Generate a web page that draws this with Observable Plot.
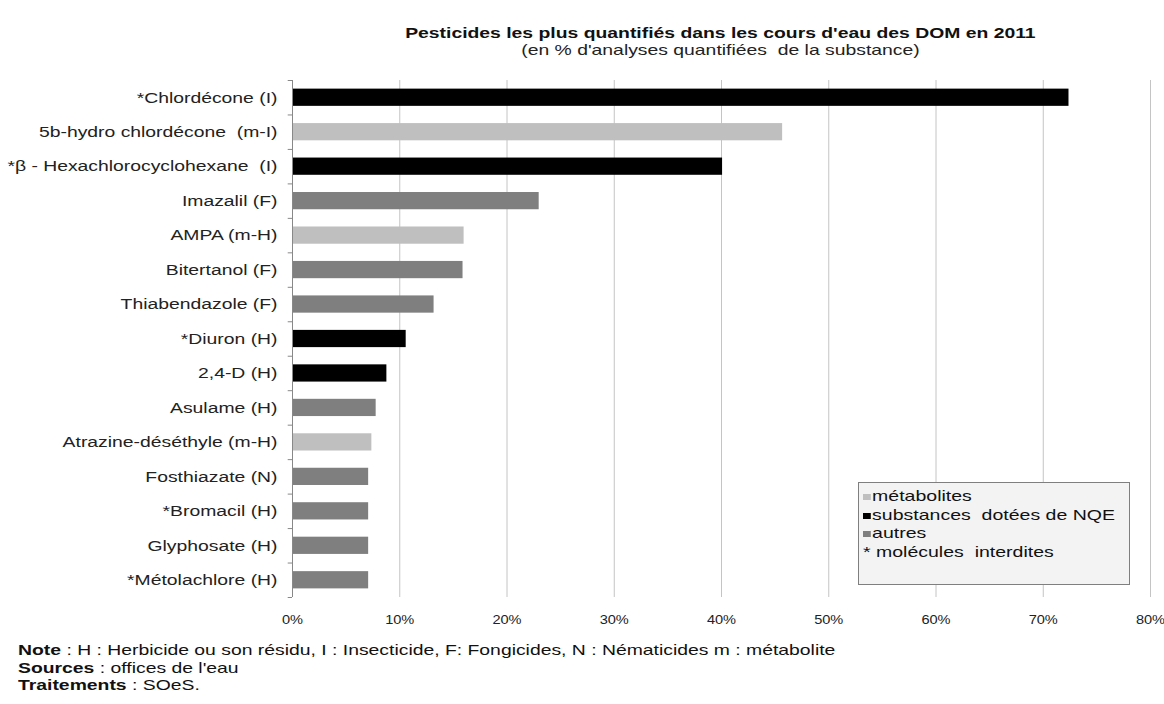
<!DOCTYPE html>
<html>
<head>
<meta charset="utf-8">
<script src="https://cdn.jsdelivr.net/npm/d3@7"></script>
<script src="https://cdn.jsdelivr.net/npm/@observablehq/plot@0.6"></script>
<style>
  body { margin: 0; background: #fff; font-family: "Liberation Sans", Arial, sans-serif; }
  #wrap { position: relative; width: 1164px; height: 704px; overflow: hidden; }
  .sx { display: inline-block; white-space: pre; }
  #title { position: absolute; left: 0; top: 24px; width: 1440px; text-align: center; font-size: 15px; font-weight: bold; color: #111; }
  #title .sx, #subtitle .sx { transform: scaleX(1.29); transform-origin: center; }
  #subtitle { position: absolute; left: 0; top: 41px; width: 1440px; text-align: center; font-size: 15px; color: #222; }
  #chart { position: absolute; left: 0; top: 0; }
  #legend { position: absolute; left: 858px; top: 482px; width: 272px; height: 103px; border: 1px solid #7f7f7f; background: #f3f3f3; box-sizing: border-box; padding: 4px 0 0 4px; font-size: 15px; color: #111; line-height: 18.5px; }
  #legend .sx { transform: scaleX(1.3); transform-origin: left center; }
  #legend .sw { display: inline-block; width: 6px; height: 6px; margin-right: 1px; vertical-align: 1px; }
  #notes { position: absolute; left: 18px; top: 641px; font-size: 15px; color: #111; line-height: 17.5px; }
  #notes .sx { transform: scaleX(1.29); transform-origin: left center; }
</style>
</head>
<body>
<div id="wrap">
  <div id="title"><span class="sx">Pesticides les plus quantifiés dans les cours d'eau des DOM en 2011</span></div>
  <div id="subtitle"><span class="sx">(en % d'analyses quantifiées  de la substance)</span></div>
  <div id="chart"></div>
  <div id="legend"></div>
  <div id="notes">
    <div><span class="sx"><b>Note</b> : H : Herbicide ou son résidu, I : Insecticide, F: Fongicides, N : Nématicides m : métabolite</span></div>
    <div><span class="sx"><b>Sources</b> : offices de l'eau</span></div>
    <div><span class="sx"><b>Traitements</b> : SOeS.</span></div>
  </div>
</div>
<script>
const names = [
  "*Chlordécone (I)",
  "5b-hydro chlordécone  (m-I)",
  "*β - Hexachlorocyclohexane  (I)",
  "Imazalil (F)",
  "AMPA (m-H)",
  "Bitertanol (F)",
  "Thiabendazole (F)",
  "*Diuron (H)",
  "2,4-D (H)",
  "Asulame (H)",
  "Atrazine-déséthyle (m-H)",
  "Fosthiazate (N)",
  "*Bromacil (H)",
  "Glyphosate (H)",
  "*Métolachlore (H)"
];
const values = [72.4, 45.7, 40.1, 23.0, 16.0, 15.9, 13.2, 10.6, 8.8, 7.8, 7.4, 7.1, 7.1, 7.1, 7.1];
const types = ["nqe", "meta", "nqe", "autre", "meta", "autre", "autre", "nqe", "nqe", "autre", "meta", "autre", "autre", "autre", "autre"];
const typeKeys = ["meta", "nqe", "autre"];
const typeLabels = ["métabolites", "substances  dotées de NQE", "autres"];
const typeColors = ["#bfbfbf", "#000000", "#7f7f7f"];
const xTicks = [0, 10, 20, 30, 40, 50, 60, 70, 80];

const data = names.map((n, i) => ({name: n, value: values[i], type: types[i]}));

const bandStep = (597 - 80) / names.length;

const plot = Plot.plot({
  width: 1164,
  height: 640,
  marginTop: 80,
  marginBottom: 43,
  marginLeft: 292,
  marginRight: 14,
  style: {fontFamily: "Liberation Sans, Arial, sans-serif", fontSize: "15px", color: "#222"},
  x: {domain: [0, 80], ticks: xTicks, tickFormat: d => d + "%", label: null},
  y: {domain: names, paddingInner: 0.5, paddingOuter: 0.25, round: false, label: null},
  color: {domain: typeKeys, range: typeColors},
  marks: [
    Plot.gridX(xTicks.filter(d => d > 0), {stroke: "#c4c4c4", strokeOpacity: 1}),
    Plot.axisX({ticks: xTicks, tickFormat: d => d + "%", tickSize: 0, tickPadding: 17, label: null, fontSize: 13.5}),
    Plot.axisY({tickSize: 0, tickPadding: 15, label: null, fontSize: 15}),
    Plot.barX(data, {x: "value", y: "name", fill: "type"}),
    Plot.ruleX([0], {stroke: "#888"}),
    Plot.ruleY(names, {y: d => d, x1: -0.4, x2: 0, dy: -bandStep / 2, stroke: "#888"}),
    Plot.ruleY([names[names.length - 1]], {y: d => d, x1: -0.4, x2: 0, dy: bandStep / 2, stroke: "#888"})
  ]
});
document.getElementById("chart").appendChild(plot);

// widen the y-axis labels horizontally, as in the reference picture
d3.select(plot).selectAll("g[aria-label='y-axis tick label'] text").each(function() {
  const t = this.getAttribute("transform") || "";
  this.setAttribute("transform", t + " scale(1.29,1)");
});
// widen the x-axis labels slightly, keeping the last one inside the window
d3.select(plot).selectAll("g[aria-label='x-axis tick label'] text").each(function() {
  const t = this.getAttribute("transform") || "";
  this.setAttribute("transform", t + " scale(1.08,1)");
});

const legend = document.getElementById("legend");
typeKeys.forEach((k, i) => {
  const row = document.createElement("div");
  const span = document.createElement("span");
  span.className = "sx";
  const sw = document.createElement("span");
  sw.className = "sw";
  sw.style.background = typeColors[i];
  span.appendChild(sw);
  span.appendChild(document.createTextNode(typeLabels[i]));
  row.appendChild(span);
  legend.appendChild(row);
});
const star = document.createElement("div");
star.innerHTML = '<span class="sx">* molécules  interdites</span>';
legend.appendChild(star);
</script>
</body>
</html>
